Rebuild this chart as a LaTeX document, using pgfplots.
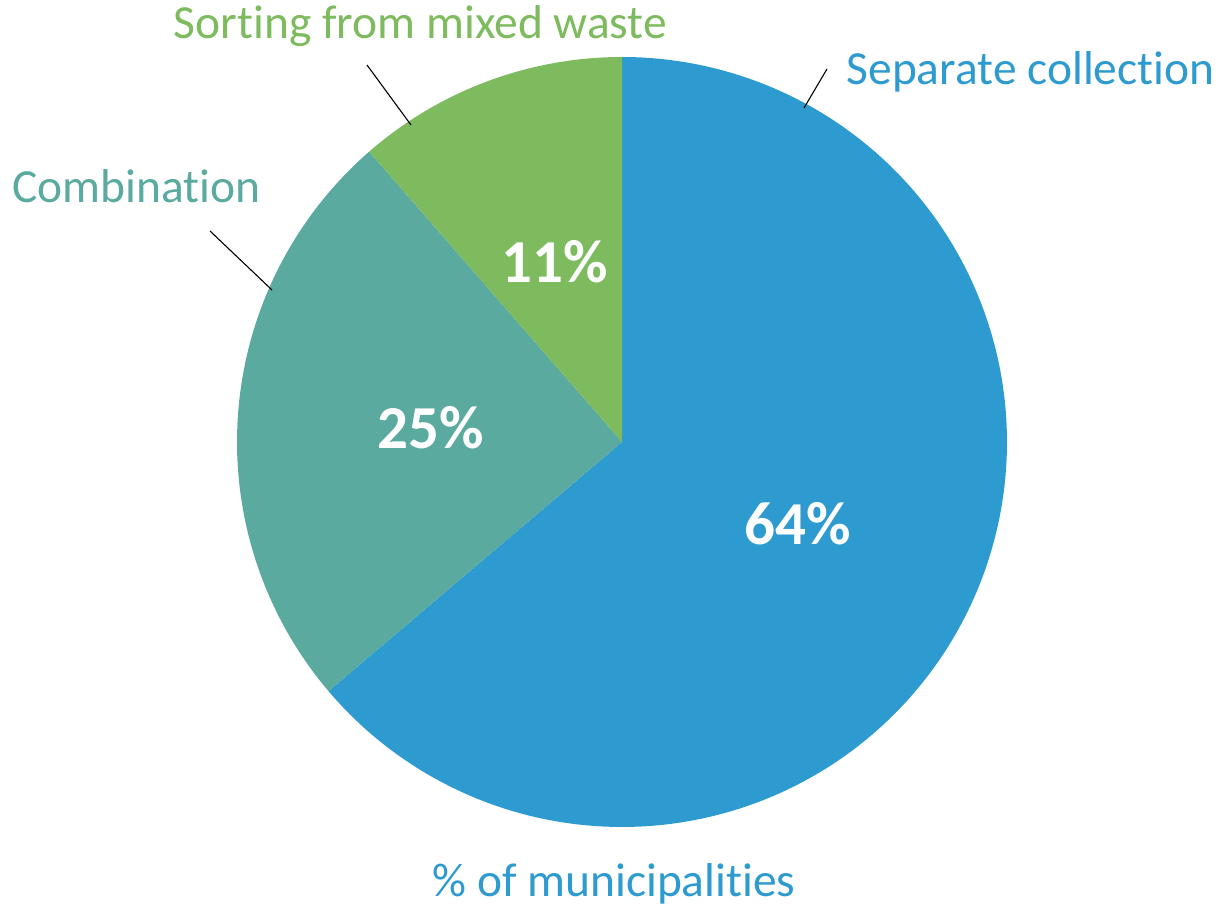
\documentclass[border=0pt]{standalone}
\usepackage{pgfplots}
\pgfplotsset{compat=1.18}
\usepackage{pgfplotstable}
\usepackage{fontspec}
\setmainfont{Carlito}[Ligatures={NoCommon}]
\definecolor{sepblue}{RGB}{46,155,208}
\definecolor{combteal}{RGB}{90,170,160}
\definecolor{sortgreen}{RGB}{125,187,94}

\pgfplotstableread[col sep=comma]{
label,value
Separate collection,63.8
Combination,24.8
Sorting from mixed waste,11.4
}\piedata

\begin{document}
\begin{tikzpicture}
\pgfplotstablegetelem{0}{value}\of\piedata \let\vA\pgfplotsretval
\pgfplotstablegetelem{1}{value}\of\piedata \let\vB\pgfplotsretval
\pgfplotstablegetelem{2}{value}\of\piedata \let\vC\pgfplotsretval
\pgfmathsetmacro\tot{\vA+\vB+\vC}
\pgfmathsetmacro\fA{\vA/\tot}
\pgfmathsetmacro\fB{\vB/\tot}
\pgfmathsetmacro\aA{90-360*\fA}
\pgfmathsetmacro\aB{90-360*(\fA+\fB)}
\pgfmathsetmacro\aC{-270}
\pgfmathsetmacro\mA{(90+\aA)/2}
\pgfmathsetmacro\mB{(\aA+\aB)/2}
\pgfmathsetmacro\mC{(\aB+\aC)/2}
\pgfkeys{/pgf/number format/.cd,fixed,precision=0,assume math mode=true}
\begin{axis}[x=1pt,y=1pt,xmin=0,xmax=1224,ymin=0,ymax=909,
  hide axis,scale only axis,clip=false,anchor=south west,at={(0,0)}]
\addplot[fill=sepblue,draw=none,domain=\aA:90,samples=240,variable=\t]
  ({622+385*cos(t)},{467+385*sin(t)}) -- (axis cs:622,467) -- cycle;
\addplot[fill=combteal,draw=none,domain=\aB:\aA,samples=120,variable=\t]
  ({622+385*cos(t)},{467+385*sin(t)}) -- (axis cs:622,467) -- cycle;
\addplot[fill=sortgreen,draw=none,domain=\aC:\aB,samples=80,variable=\t]
  ({622+385*cos(t)},{467+385*sin(t)}) -- (axis cs:622,467) -- cycle;

\node[white,font=\fontsize{61}{70}\selectfont\bfseries] at (axis cs:{622+194*cos(\mA)},{467+194*sin(\mA)}) {\pgfmathprintnumber[fixed,precision=0,assume math mode=true]{\vA}\%};
\node[white,font=\fontsize{61}{70}\selectfont\bfseries] at (axis cs:{622+192*cos(\mB)},{467+192*sin(\mB)}) {\pgfmathprintnumber[fixed,precision=0,assume math mode=true]{\vB}\%};
\node[white,font=\fontsize{61}{70}\selectfont\bfseries] at (axis cs:{622+192*cos(\mC)},{467+192*sin(\mC)}) {\pgfmathprintnumber[fixed,precision=0,assume math mode=true]{\vC}\%};

\draw[black,line width=1.1pt] (axis cs:827,840) -- (axis cs:804,801);
\draw[black,line width=1.1pt] (axis cs:367,844) -- (axis cs:411,784);
\draw[black,line width=1.1pt] (axis cs:210,678) -- (axis cs:272,619);

\node[anchor=base,text=sepblue,font=\fontsize{47.5}{56}\selectfont] at (axis cs:1030.5,824) {Separate collection};
\node[anchor=base,text=sortgreen,font=\fontsize{47.5}{56}\selectfont] at (axis cs:420.5,870) {Sorting from mixed waste};
\node[anchor=base,text=combteal,font=\fontsize{47.5}{56}\selectfont] at (axis cs:136.5,706) {Combination};
\node[anchor=base,text=sepblue,font=\fontsize{47.5}{56}\selectfont] at (axis cs:614,12) {\% of municipalities};
\end{axis}
\pgfresetboundingbox
\path[use as bounding box] (0,0) rectangle (1224pt,909pt);
\end{tikzpicture}
\end{document}
